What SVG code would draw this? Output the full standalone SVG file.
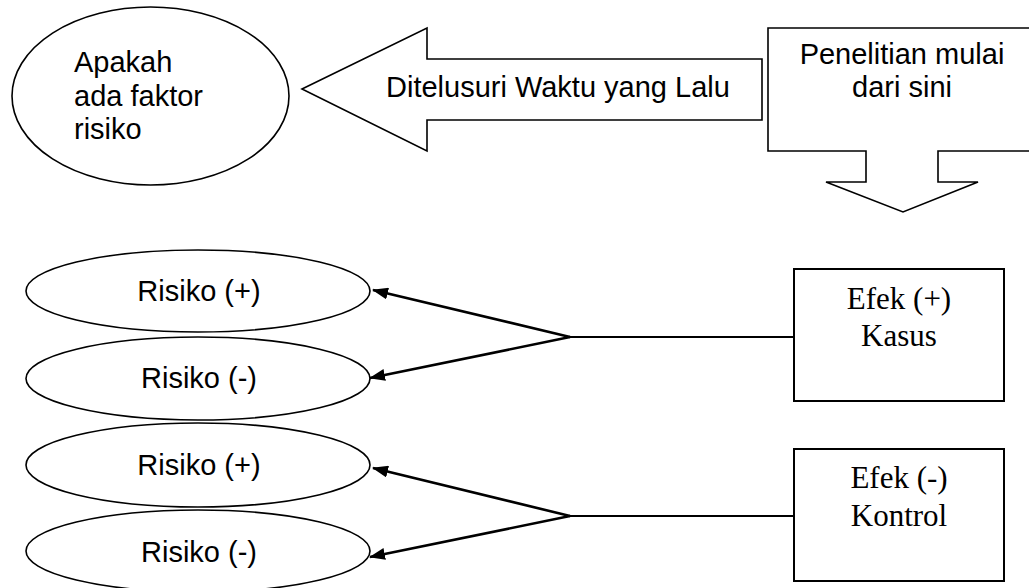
<svg xmlns="http://www.w3.org/2000/svg" width="1029" height="588" viewBox="0 0 1029 588">
<style>
.shape{fill:#fff;stroke:#000;stroke-width:1.6}
.box{fill:#fff;stroke:#000;stroke-width:2}
.sans{font-family:"Liberation Sans",Arial,sans-serif;font-size:29px;fill:#000}
.serif{font-family:"Liberation Serif","Times New Roman",serif;font-size:31px;fill:#000}
.conn{fill:none;stroke:#000;stroke-width:2.6}
.hconn{fill:none;stroke:#000;stroke-width:2}
</style>
<defs>
<marker id="ah" markerUnits="userSpaceOnUse" markerWidth="16" markerHeight="12" refX="15" refY="6" orient="auto">
<path d="M0,0 L16,6 L0,12 Z" fill="#000"/>
</marker>
</defs>
<rect width="1029" height="588" fill="#fff"/>
<g id="faktor">
<ellipse class="shape" cx="150.5" cy="96" rx="138.5" ry="89"/>
<text class="sans" x="74" y="72">Apakah</text>
<text class="sans" x="74" y="106">ada faktor</text>
<text class="sans" x="74" y="139">risiko</text>
</g>
<g id="ditelusuri">
<path class="shape" d="M302,89 L427,28 L427,59 L762,59 L762,120 L427,120 L427,151 Z"/>
<text class="sans" x="386" y="97">Ditelusuri Waktu yang Lalu</text>
</g>
<g id="penelitian">
<path class="shape" d="M768,28 L1034,28 L1034,151 L938,151 L938,182 L978,182 L903,212 L826,182 L866,182 L866,151 L768,151 Z"/>
<text class="sans" x="902" y="64" text-anchor="middle">Penelitian mulai</text>
<text class="sans" x="902" y="97" text-anchor="middle">dari sini</text>
</g>
<g id="risiko1">
<ellipse class="shape" cx="198" cy="291" rx="172" ry="41"/>
<text class="sans" x="199" y="301" text-anchor="middle">Risiko (+)</text>
</g>
<g id="risiko2">
<ellipse class="shape" cx="198" cy="378.5" rx="172" ry="41.5"/>
<text class="sans" x="199" y="388" text-anchor="middle">Risiko (-)</text>
</g>
<g id="risiko3">
<ellipse class="shape" cx="198" cy="465" rx="172" ry="42"/>
<text class="sans" x="199" y="475" text-anchor="middle">Risiko (+)</text>
</g>
<g id="risiko4">
<ellipse class="shape" cx="198" cy="551" rx="172" ry="41"/>
<text class="sans" x="199" y="562" text-anchor="middle">Risiko (-)</text>
</g>
<g id="kasus">
<rect class="box" x="794" y="269" width="210" height="132"/>
<text class="serif" x="899" y="309" text-anchor="middle">Efek (+)</text>
<text class="serif" x="899" y="346" text-anchor="middle">Kasus</text>
</g>
<g id="kontrol">
<rect class="box" x="794" y="449" width="210" height="132"/>
<text class="serif" x="899" y="488" text-anchor="middle">Efek (-)</text>
<text class="serif" x="899" y="526" text-anchor="middle">Kontrol</text>
</g>
<g id="connectors">
<line class="hconn" x1="570" y1="337" x2="794" y2="337"/>
<line class="conn" x1="570" y1="337" x2="373" y2="290" marker-end="url(#ah)"/>
<line class="conn" x1="570" y1="337" x2="370" y2="378" marker-end="url(#ah)"/>
<line class="hconn" x1="570" y1="516" x2="794" y2="516"/>
<line class="conn" x1="570" y1="516" x2="373" y2="468" marker-end="url(#ah)"/>
<line class="conn" x1="570" y1="516" x2="370" y2="557" marker-end="url(#ah)"/>
</g>
</svg>
